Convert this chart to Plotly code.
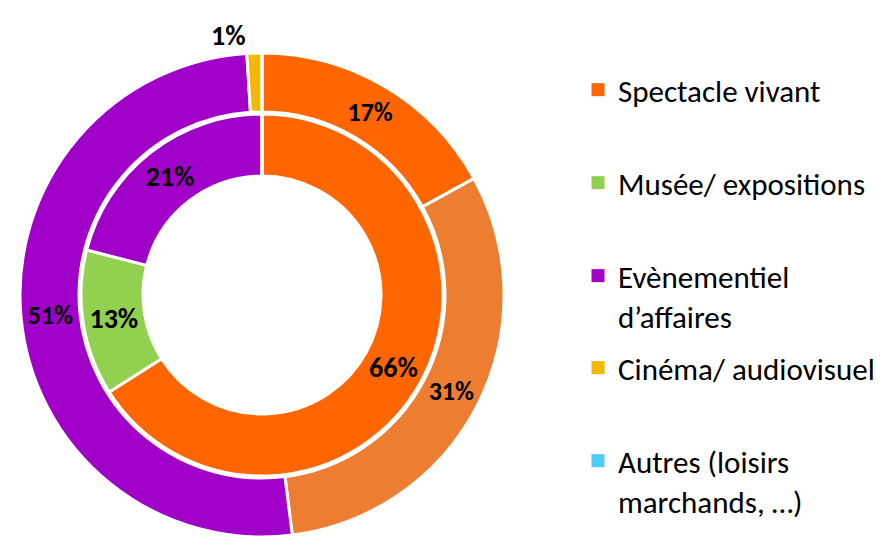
import plotly.graph_objects as go

# categories shared by both rings
categories = [
    "Spectacle vivant",
    "Musée/ expositions",
    "Evènementiel d’affaires",
    "Cinéma/ audiovisuel",
    "Autres (loisirs marchands, …)",
]
legend_text = [
    "Spectacle vivant",
    "Musée/ expositions",
    "Evènementiel<br>d’affaires",
    "Cinéma/ audiovisuel",
    "Autres (loisirs<br>marchands, …)",
]
inner_values = [66, 13, 21, 0, 0]
outer_values = [17, 31, 51, 1, 0]

inner_colors = ["#FF6600", "#92D050", "#A000C8", "#F5B800", "#4DCBF5"]
outer_colors = ["#FF6600", "#ED7D31", "#A000C8", "#F5B800", "#4DCBF5"]

FONT = "Calibri, Carlito, Lato, sans-serif"
W, H = 884, 537
OFF = 8                    # the page body adds an 8px margin around the figure
cx, cy = 262 - OFF, 295 - OFF   # pie centre in figure px (from top-left)
r_out, r_in = 242, 181


def dom(r):
    return dict(x=[(cx - r) / W, (cx + r) / W],
                y=[(H - cy - r) / H, (H - cy + r) / H])


fig = go.Figure()

# outer ring; text kept a bit smaller so plotly leaves it at the slice middle
fig.add_trace(go.Pie(
    labels=categories, values=outer_values, sort=False, direction="clockwise",
    hole=183 / 242, domain=dom(r_out), showlegend=False,
    marker=dict(colors=outer_colors, line=dict(color="white", width=3)),
    texttemplate="<b>%{value}%</b>",
    textposition=["inside", "inside", "inside", "outside", "inside"],
    insidetextorientation="horizontal",
    textfont=dict(family=FONT, size=26, color="black"),
    outsidetextfont=dict(family=FONT, size=28, color="black"),
    hoverinfo="label+value",
))

fig.add_trace(go.Pie(
    labels=categories, values=inner_values, sort=False, direction="clockwise",
    hole=119 / 181, domain=dom(r_in), showlegend=False,
    marker=dict(colors=inner_colors, line=dict(color="white", width=3)),
    texttemplate="<b>%{value}%</b>",
    textposition="inside",
    insidetextorientation="horizontal",
    textfont=dict(family=FONT, size=28, color="black"),
    hoverinfo="label+value",
))

# legend entries, one legend each so spacing follows the reference
legend_y = [92, 185, 278, 370, 463]
layout_legends = {}
for i, (txt, col) in enumerate(zip(legend_text, inner_colors)):
    name = "legend" if i == 0 else f"legend{i + 1}"
    fig.add_trace(go.Scatter(
        x=[None], y=[None], mode="markers", name=txt, legend=name,
        marker=dict(symbol="square", size=13, color=col),
    ))
    layout_legends[name] = dict(
        x=570 / W, xanchor="left",
        y=1 - (legend_y[i] - OFF - 29) / H, yanchor="top",
        valign="top", bgcolor="rgba(0,0,0,0)",
        font=dict(family=FONT, size=31, color="black"),
        itemclick=False,
    )

fig.update_layout(
    width=W, height=H,
    margin=dict(l=0, r=0, t=0, b=0, autoexpand=False),
    paper_bgcolor="white", plot_bgcolor="white",
    xaxis=dict(visible=False), yaxis=dict(visible=False),
    **layout_legends,
)

fig.write_html("out.html")
